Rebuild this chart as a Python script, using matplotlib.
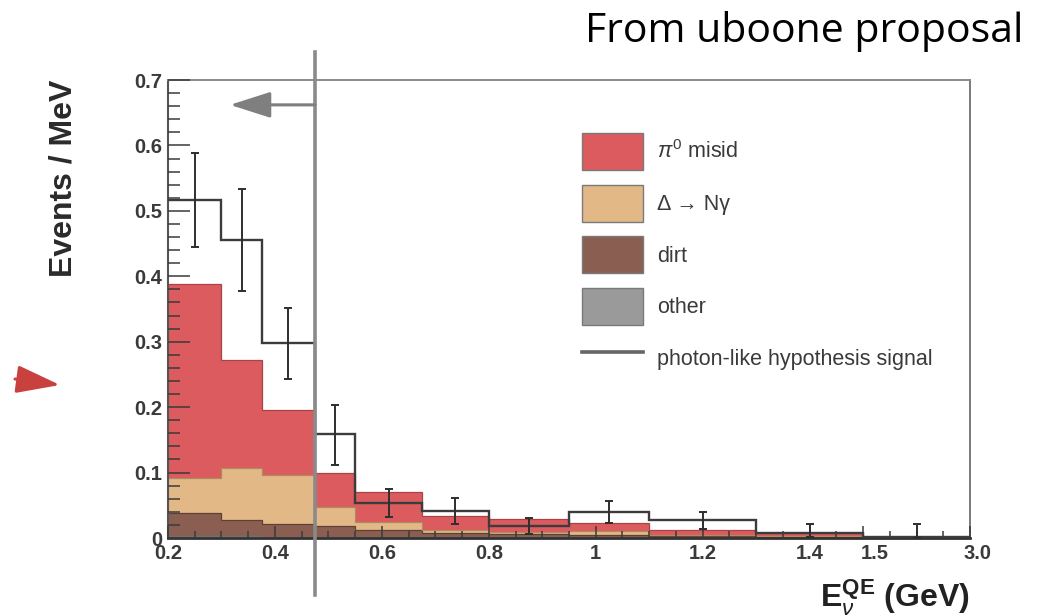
import numpy as np
import matplotlib
matplotlib.use('Agg')
import matplotlib.pyplot as plt
from matplotlib.patches import Patch
from matplotlib.lines import Line2D
from matplotlib.ticker import FixedLocator, MultipleLocator
from matplotlib.transforms import ScaledTranslation

# bin edges in GeV, the last bin (1.5-3.0) is squeezed on the axis
edges_gev = [0.2, 0.3, 0.375, 0.475, 0.55, 0.675, 0.8, 0.95, 1.1, 1.3, 1.5, 3.0]

# stacked backgrounds, events / MeV (bottom -> top)
other = [0.003, 0.003, 0.002, 0.002, 0.001, 0.001, 0.001, 0.001, 0.0, 0.0, 0.0]
dirt = [0.035, 0.025, 0.020, 0.017, 0.011, 0.007, 0.005, 0.004, 0.003, 0.002, 0.001]
delta = [0.054, 0.079, 0.074, 0.029, 0.013, 0.004, 0.003, 0.005, 0.002, 0.001, 0.0]
pi0 = [0.296, 0.165, 0.099, 0.052, 0.045, 0.022, 0.020, 0.013, 0.007, 0.004, 0.001]

# photon-like hypothesis signal with error bar ends
signal = [0.517, 0.456, 0.298, 0.159, 0.053, 0.042, 0.019, 0.040, 0.0275, 0.008, 0.002]
signal_lo = [0.444, 0.378, 0.243, 0.112, 0.032, 0.021, 0.006, 0.023, 0.013, 0.002, 0.0]
signal_hi = [0.589, 0.534, 0.352, 0.204, 0.075, 0.061, 0.030, 0.057, 0.040, 0.021, 0.022]

cut_gev = 0.475

xtick_gev = [0.2, 0.4, 0.6, 0.8, 1.0, 1.2, 1.4, 1.5, 3.0]
xtick_labels = ['0.2', '0.4', '0.6', '0.8', '1', '1.2', '1.4', '1.5', '3.0']
ytick_vals = [0.0, 0.1, 0.2, 0.3, 0.4, 0.5, 0.6, 0.7]
ytick_labels = ['0', '0.1', '0.2', '0.3', '0.4', '0.5', '0.6', '0.7']

labels = [r'$\pi^0$ misid', 'Δ → Nγ', 'dirt', 'other',
          'photon-like hypothesis signal']
colors = ['#DC5B5E', '#E2B887', '#8A5F52', '#9A9A9A']
edge_colors = ['#A84446', '#B08A60', '#5E4036', '#707070']


def squeeze(e):
    e = np.asarray(e, dtype=float)
    return np.where(e <= 1.5, e, 1.5 + (e - 1.5) * 0.2 / 1.5)


plt.rcParams['font.family'] = ['Liberation Sans', 'DejaVu Sans']
plt.rcParams['mathtext.fontset'] = 'custom'
plt.rcParams['mathtext.rm'] = 'Liberation Sans'
plt.rcParams['mathtext.it'] = 'Liberation Sans:italic'
plt.rcParams['mathtext.bf'] = 'Liberation Sans:bold'

W, H = 1046, 615
fig = plt.figure(figsize=(W / 100, H / 100), dpi=100)
ax = fig.add_axes([168 / W, 77 / H, 802 / W, 458 / H])
ax.set_axisbelow(False)

edges = squeeze(edges_gev)
centers = 0.5 * (edges[:-1] + edges[1:])

# stacked histogram
layers = [other, dirt, delta, pi0]
layer_cols = [colors[3], colors[2], colors[1], colors[0]]
layer_edges = [edge_colors[3], edge_colors[2], edge_colors[1], edge_colors[0]]
base = np.zeros(len(signal))
for vals, fc, ec in zip(layers, layer_cols, layer_edges):
    top = base + np.asarray(vals)
    ax.stairs(top, edges, baseline=base, fill=True, facecolor=fc,
              edgecolor='none', zorder=1.2)
    ax.stairs(top, edges, baseline=None, color=ec, lw=0.9, zorder=1.4)
    base = top

# signal line and error bars
sig = np.asarray(signal)
ax.stairs(sig, edges, baseline=None, color='#3c3c3c', lw=1.7, zorder=3)
ax.errorbar(centers, sig,
            yerr=[sig - np.asarray(signal_lo), np.asarray(signal_hi) - sig],
            fmt='none', ecolor='#2e2e2e', elinewidth=1.4, capsize=3,
            capthick=1.4, zorder=4)

ax.set_xlim(0.2, 1.7)
ax.set_ylim(0, 0.7)

ax.xaxis.set_major_locator(FixedLocator(squeeze(xtick_gev)))
ax.set_xticklabels(xtick_labels)
ax.xaxis.set_minor_locator(MultipleLocator(0.05))
ax.yaxis.set_major_locator(FixedLocator(ytick_vals))
ax.set_yticklabels(ytick_labels)
ax.yaxis.set_minor_locator(MultipleLocator(0.02))

ax.tick_params(which='both', direction='in', colors='#3a3a3a', width=1.1,
               top=False, right=False)
ax.tick_params(axis='y', which='major', length=16, pad=4)
ax.tick_params(axis='y', which='minor', length=8.5)
ax.tick_params(axis='x', which='major', length=9, pad=4)
ax.tick_params(axis='x', which='minor', length=5)
for lab in ax.get_xticklabels() + ax.get_yticklabels():
    lab.set_fontsize(14.5)
    lab.set_fontweight('bold')
    lab.set_color('#3a3a3a')
# ROOT puts the two last labels a bit to the right
xl = ax.get_xticklabels()
xl[-2].set_transform(xl[-2].get_transform() + ScaledTranslation(0.12, 0, fig.dpi_scale_trans))
xl[-1].set_transform(xl[-1].get_transform() + ScaledTranslation(0.07, 0, fig.dpi_scale_trans))

ax.spines['left'].set_color('#555555')
ax.spines['left'].set_linewidth(1.5)
ax.spines['bottom'].set_color('#333333')
ax.spines['bottom'].set_linewidth(2.0)
ax.spines['top'].set_color('#8a8a8a')
ax.spines['top'].set_linewidth(1.4)
ax.spines['right'].set_color('#7a7a7a')
ax.spines['right'].set_linewidth(1.4)

ax.set_ylabel('Events / MeV', loc='top', fontsize=23, fontweight='bold',
              color='#2a2a2a')
ax.yaxis.set_label_coords(-0.112, 1.0)
ax.set_xlabel(r'$\mathbf{E}_{\nu}^{\mathbf{QE}}$ (GeV)', loc='right',
              fontsize=23, fontweight='bold', color='#222222')
ax.xaxis.set_label_coords(1.0, -0.087)

# energy cut line with arrow
ax.axvline(squeeze(cut_gev), ymin=-0.124, ymax=1.061, color='#8a8a8a',
           lw=2.6, clip_on=False, zorder=5)
ax.annotate('', xy=(0.316, 0.662), xytext=(float(squeeze(cut_gev)), 0.662),
            arrowprops=dict(arrowstyle='-|>,head_length=1.25,head_width=0.4',
                            mutation_scale=20, color='#7f7f7f', lw=2.2,
                            shrinkA=0, shrinkB=0),
            zorder=5)

# legend
handles = [Patch(facecolor=c, edgecolor='#7a7a7a', lw=1.0) for c in colors]
handles.append(Line2D([0], [0], color='#666666', lw=2.6))
ax.legend(handles, labels, loc='upper left',
          bbox_to_anchor=(582 / W, 1 - 133 / H), bbox_transform=fig.transFigure,
          frameon=False, fontsize=15.5, labelcolor='#3a3a3a',
          handlelength=2.84, handleheight=2.27, labelspacing=0.68,
          handletextpad=0.65, borderpad=0, borderaxespad=0)

fig.text(585 / W, 1 - 42 / H, 'From uboone proposal',
         family=['Open Sans', 'DejaVu Sans'], fontsize=29.5, va='baseline',
         ha='left', color='black')

# small red pointer on the left
ax.annotate('', xy=(60, H - 385), xytext=(15, H - 379),
            xycoords='figure pixels', textcoords='figure pixels',
            arrowprops=dict(arrowstyle='-|>,head_length=1.35,head_width=0.43',
                            mutation_scale=20, color='#C9413F', lw=2.2,
                            shrinkA=0, shrinkB=0),
            annotation_clip=False)

fig.savefig('out.png', dpi=100)
